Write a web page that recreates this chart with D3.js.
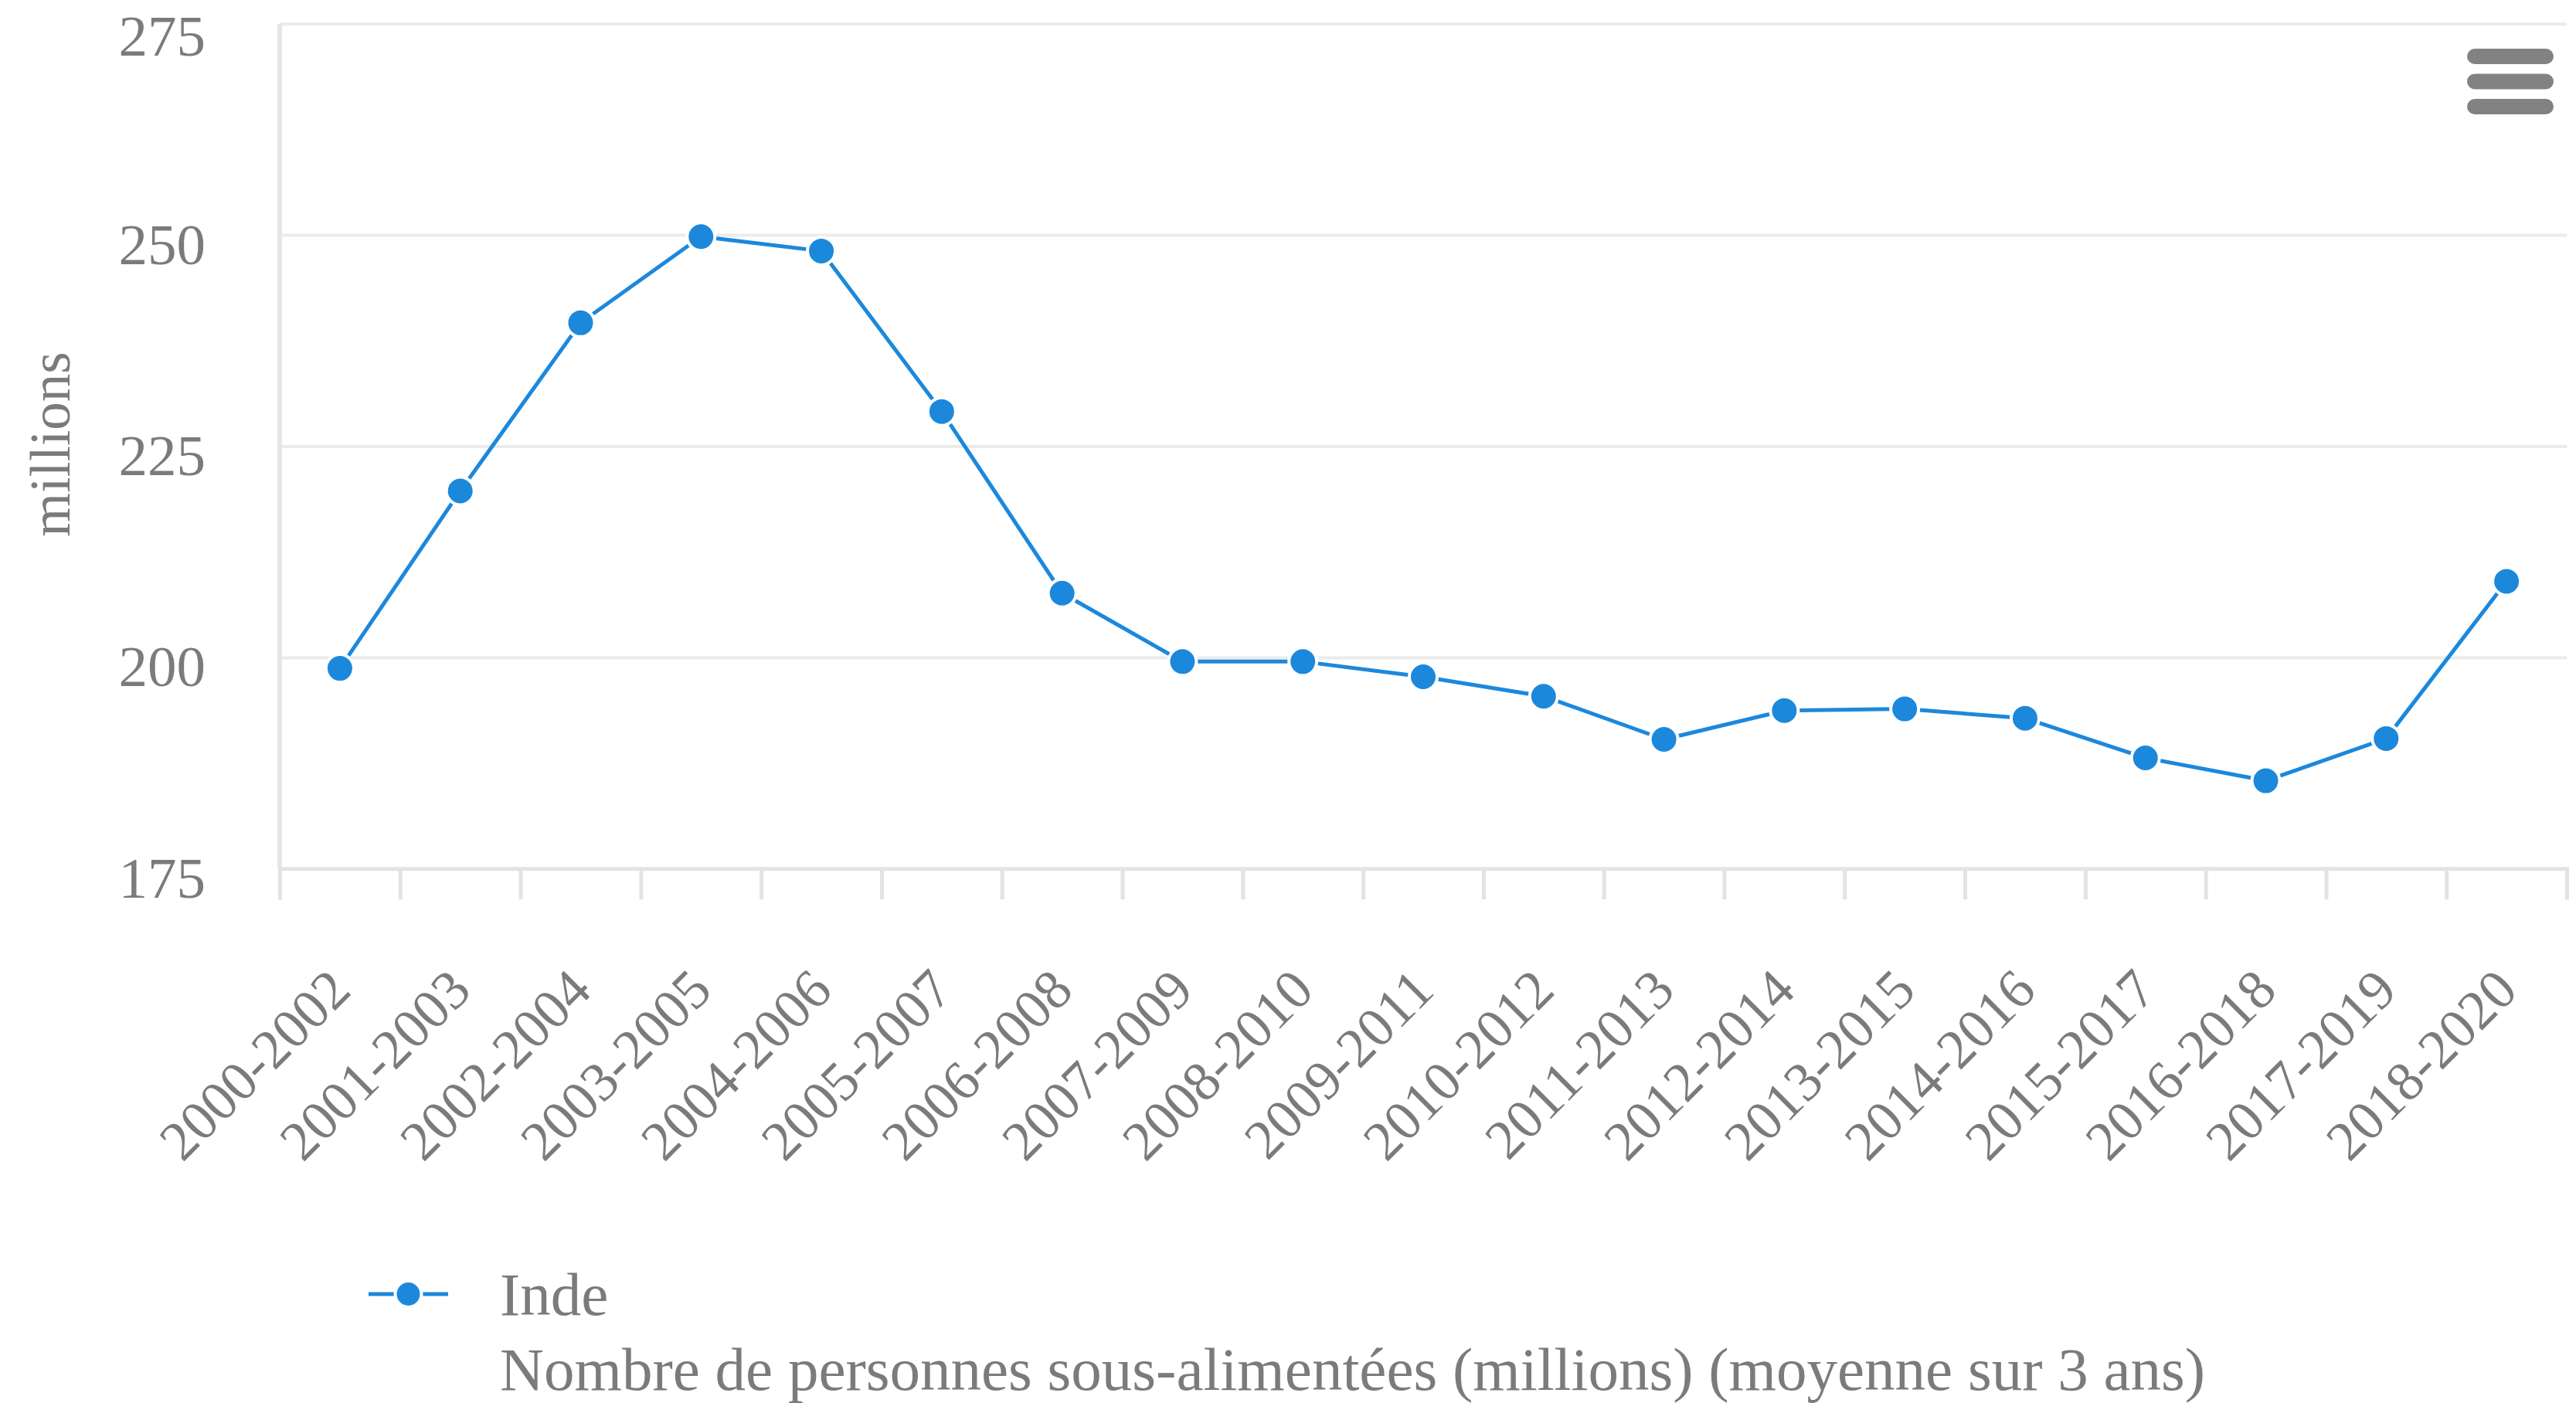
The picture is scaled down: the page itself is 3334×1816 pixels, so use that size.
<!DOCTYPE html>
<html>
<head>
<meta charset="utf-8">
<script src="https://cdn.jsdelivr.net/npm/d3@7"></script>
<style>
html,body{margin:0;padding:0;background:#fff;}
svg{display:block;}
</style>
</head>
<body>
<svg id="chart" width="3334" height="1816"></svg>
<script>
const categories = ["2000-2002","2001-2003","2002-2004","2003-2005","2004-2006","2005-2007","2006-2008","2007-2009","2008-2010","2009-2011","2010-2012","2011-2013","2012-2014","2013-2015","2014-2016","2015-2017","2016-2018","2017-2019","2018-2020"];
const values = [198.7, 219.7, 239.6, 249.8, 248.1, 229.1, 207.6, 199.5, 199.5, 197.7, 195.4, 190.3, 193.7, 193.9, 192.8, 188.1, 185.4, 190.4, 209.0];
const yTicks = [175, 200, 225, 250, 275];
const seriesName = "Inde";
const seriesDescription = "Nombre de personnes sous-alimentées (millions) (moyenne sur 3 ans)";
const yTitle = "millions";

(function () {
const FONT = "'Liberation Serif','Times New Roman',serif";
const TEXT = "#7b7b7b";
const BLUE = "#1c88dc";

const svg = d3.select("#chart");
svg.append("rect").attr("width", 3334).attr("height", 1816).attr("fill", "#fff");

const plotLeft = 362, plotRight = 3322, plotTop = 30.7, plotBottom = 1124.3;

const x = d3.scaleBand().domain(categories).range([plotLeft, plotRight]).padding(0);
const xEdges = d3.scaleLinear().domain([0, categories.length]).range([plotLeft, plotRight]);
const y = d3.scaleLinear().domain([175, 275]).range([plotBottom, plotTop]);

// Y gridlines + labels
const yAxis = svg.append("g")
  .attr("transform", `translate(${plotLeft},0)`)
  .call(d3.axisLeft(y).tickValues(yTicks).tickSize(-(plotRight - plotLeft)).tickPadding(96).tickFormat(d3.format("d")));
yAxis.select(".domain").remove();
yAxis.selectAll(".tick line").attr("stroke", "#ebebeb").attr("stroke-width", 4);
yAxis.selectAll(".tick text")
  .attr("fill", TEXT)
  .style("font-family", FONT)
  .style("font-size", "75px")
  .attr("dy", d => d === 275 ? 41 : 37);

// Y axis line
svg.append("line")
  .attr("x1", plotLeft).attr("x2", plotLeft)
  .attr("y1", y(275)).attr("y2", plotBottom)
  .attr("stroke", "#e6e6e6").attr("stroke-width", 6);

// X axis line and ticks (between categories)
const xAxis = svg.append("g")
  .attr("transform", `translate(0,${plotBottom})`)
  .call(d3.axisBottom(xEdges).tickValues(d3.range(categories.length + 1)).tickSize(40).tickFormat(""));
xAxis.select(".domain").attr("stroke", "#e3e3e3").attr("stroke-width", 5);
xAxis.selectAll(".tick line").attr("stroke", "#e3e3e3").attr("stroke-width", 5);

// X labels rotated
svg.append("g").selectAll("text")
  .data(categories)
  .join("text")
  .attr("transform", d => `translate(${x(d) + x.bandwidth() / 2 + 17},1285) rotate(-45)`)
  .attr("text-anchor", "end")
  .attr("fill", TEXT)
  .style("font-family", FONT)
  .style("font-size", "72px")
  .text(d => d);

// Y axis title
svg.append("text")
  .attr("transform", "translate(90,575) rotate(-90)")
  .attr("text-anchor", "middle")
  .attr("fill", TEXT)
  .style("font-family", FONT)
  .style("font-size", "73px")
  .text(yTitle);

// Series line
const line = d3.line()
  .x((d, i) => x(categories[i]) + x.bandwidth() / 2)
  .y(d => y(d));
svg.append("path")
  .datum(values)
  .attr("d", line)
  .attr("fill", "none")
  .attr("stroke", BLUE)
  .attr("stroke-width", 5)
  .attr("stroke-linejoin", "round")
  .attr("stroke-linecap", "round");

svg.append("g").selectAll("circle")
  .data(values)
  .join("circle")
  .attr("cx", (d, i) => x(categories[i]) + x.bandwidth() / 2)
  .attr("cy", d => y(d))
  .attr("r", 18)
  .attr("fill", BLUE)
  .attr("stroke", "#fff")
  .attr("stroke-width", 4);

// Legend
const lg = svg.append("g");
lg.append("line")
  .attr("x1", 477).attr("x2", 580).attr("y1", 1675).attr("y2", 1675)
  .attr("stroke", BLUE).attr("stroke-width", 5);
lg.append("circle")
  .attr("cx", 528.5).attr("cy", 1675).attr("r", 17)
  .attr("fill", BLUE).attr("stroke", "#fff").attr("stroke-width", 4);
lg.append("text")
  .attr("x", 647).attr("y", 1702)
  .attr("fill", TEXT)
  .style("font-family", FONT)
  .style("font-size", "79px")
  .text(seriesName);
lg.append("text")
  .attr("x", 647).attr("y", 1799)
  .attr("fill", TEXT)
  .style("font-family", FONT)
  .style("font-size", "79px")
  .text(seriesDescription);

// Context menu icon
const menu = svg.append("g");
[73, 105.5, 138].forEach(cy => {
  menu.append("rect")
    .attr("x", 3193).attr("y", cy - 10)
    .attr("width", 112).attr("height", 20)
    .attr("rx", 10).attr("ry", 10)
    .attr("fill", "#828282");
});
})();
</script>
</body>
</html>
